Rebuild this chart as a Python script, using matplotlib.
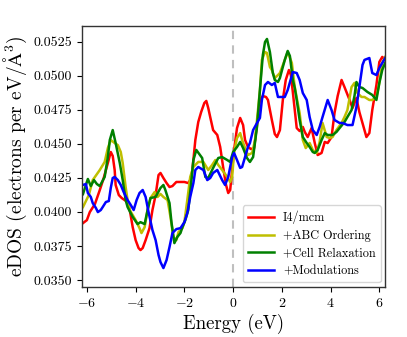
import matplotlib
matplotlib.use("Agg")
import matplotlib.pyplot as plt

plt.rcParams['font.family'] = 'serif'
plt.rcParams['font.serif'] = ['cmr10']
plt.rcParams['mathtext.fontset'] = 'cm'
plt.rcParams['axes.formatter.use_mathtext'] = True
plt.rcParams['axes.unicode_minus'] = True

# ---- data ----
red_x = [-6.16, -6.00, -5.88, -5.67, -5.47, -5.31, -5.14, -5.02, -4.94, -4.86, -4.82, -4.69, -4.57, -4.45,
         -4.33, -4.24, -4.12, -4.00, -3.88, -3.80, -3.71, -3.59, -3.43, -3.31, -3.18, -3.06, -2.98, -2.86,
         -2.73, -2.61, -2.49, -2.33, -2.16, -2.00, -1.84, -1.71, -1.63, -1.55, -1.43, -1.31, -1.18, -1.10,
         -1.02, -0.94, -0.82, -0.65, -0.53, -0.41, -0.29, -0.20, -0.12, -0.04, 0.04, 0.16, 0.29, 0.41,
         0.49, 0.61, 0.73, 0.86, 0.98, 1.10, 1.22, 1.35, 1.43, 1.59, 1.71, 1.80, 1.92, 2.04, 2.16, 2.29,
         2.37, 2.45, 2.53, 2.61, 2.73, 2.86, 2.94, 3.06, 3.22, 3.35, 3.47, 3.63, 3.76, 3.88, 4.04, 4.16,
         4.29, 4.45, 4.57, 4.78, 4.90, 5.06, 5.18, 5.39, 5.47, 5.59, 5.71, 5.88, 6.00, 6.12, 6.24]
red_y = [0.03918, 0.03940, 0.03999, 0.04058, 0.04161, 0.04249, 0.04359, 0.04440, 0.04411, 0.04308, 0.04198,
         0.04124, 0.04102, 0.04087, 0.04073, 0.04014, 0.03888, 0.03793, 0.03735, 0.03720, 0.03735, 0.03793,
         0.03881, 0.04014, 0.04124, 0.04271, 0.04286, 0.04249, 0.04212, 0.04183, 0.04190, 0.04220, 0.04220,
         0.04220, 0.04212, 0.04249, 0.04381, 0.04528, 0.04660, 0.04734, 0.04800, 0.04815, 0.04763, 0.04697,
         0.04601, 0.04565, 0.04477, 0.04330, 0.04198, 0.04139, 0.04161, 0.04308, 0.04455, 0.04616, 0.04690,
         0.04638, 0.04528, 0.04477, 0.04462, 0.04469, 0.04638, 0.04822, 0.04851, 0.04844, 0.04822, 0.04675,
         0.04572, 0.04550, 0.04601, 0.04822, 0.04969, 0.05042, 0.05005, 0.04881, 0.04748, 0.04616, 0.04594,
         0.04624, 0.04587, 0.04550, 0.04616, 0.04506, 0.04418, 0.04433, 0.04514, 0.04506, 0.04550, 0.04726,
         0.04851, 0.04969, 0.04917, 0.04822, 0.04763, 0.04837, 0.04734, 0.04601, 0.04550, 0.04579, 0.04748,
         0.04932, 0.05101, 0.05138, 0.05116]

abc_x = [-6.16, -5.92, -5.76, -5.47, -5.27, -5.14, -5.02, -4.86, -4.73, -4.61, -4.53, -4.41, -4.33, -4.24,
         -4.00, -3.84, -3.76, -3.63, -3.51, -3.39, -3.22, -3.10, -2.98, -2.86, -2.69, -2.57, -2.45, -2.33,
         -2.24, -2.08, -2.00, -1.88, -1.76, -1.63, -1.43, -1.22, -1.02, -0.86, -0.73, -0.61, -0.45, -0.24,
         -0.12, -0.04, 0.04, 0.16, 0.29, 0.37, 0.49, 0.61, 0.78, 0.90, 1.02, 1.10, 1.18, 1.31, 1.39, 1.51,
         1.59, 1.71, 1.84, 1.92, 2.12, 2.24, 2.41, 2.53, 2.65, 2.73, 2.86, 2.98, 3.14, 3.27, 3.43, 3.55,
         3.67, 3.84, 3.96, 4.08, 4.24, 4.45, 4.57, 4.69, 4.86, 4.98, 5.10, 5.27, 5.39, 5.59, 5.71, 5.88,
         6.00, 6.12, 6.24]
abc_y = [0.04036, 0.04124, 0.04234, 0.04308, 0.04367, 0.04469, 0.04528, 0.04506, 0.04491, 0.04440, 0.04359,
         0.04183, 0.04087, 0.04014, 0.03940, 0.03881, 0.03845, 0.03888, 0.04014, 0.04102, 0.04146, 0.04110,
         0.04132, 0.04110, 0.04087, 0.03963, 0.03816, 0.03793, 0.03852, 0.03881, 0.03925, 0.04087, 0.04257,
         0.04330, 0.04367, 0.04367, 0.04308, 0.04345, 0.04381, 0.04345, 0.04308, 0.04257, 0.04220, 0.04257,
         0.04440, 0.04543, 0.04579, 0.04528, 0.04469, 0.04418, 0.04433, 0.04528, 0.04748, 0.04895, 0.05116,
         0.05174, 0.05167, 0.05064, 0.05042, 0.04983, 0.05005, 0.05020, 0.05116, 0.05174, 0.05094, 0.04917,
         0.04800, 0.04726, 0.04528, 0.04469, 0.04506, 0.04455, 0.04433, 0.04514, 0.04653, 0.04550, 0.04543,
         0.04550, 0.04601, 0.04653, 0.04697, 0.04748, 0.04917, 0.04947, 0.04873, 0.04844, 0.04844, 0.04822,
         0.04822, 0.04844, 0.04947, 0.05094, 0.05138]

cell_x = [-6.16, -6.04, -5.96, -5.84, -5.71, -5.59, -5.47, -5.27, -5.14, -5.06, -4.94, -4.82, -4.65, -4.53,
          -4.41, -4.33, -4.12, -3.92, -3.80, -3.63, -3.51, -3.39, -3.18, -2.98, -2.86, -2.78, -2.61, -2.53,
          -2.41, -2.29, -2.16, -2.08, -1.96, -1.84, -1.71, -1.63, -1.51, -1.27, -1.14, -1.02, -0.82, -0.61,
          -0.45, -0.24, -0.12, 0.00, 0.16, 0.29, 0.41, 0.57, 0.69, 0.82, 0.98, 1.10, 1.22, 1.31, 1.39,
          1.51, 1.63, 1.71, 1.84, 1.92, 2.04, 2.12, 2.24, 2.33, 2.45, 2.53, 2.61, 2.73, 2.86, 3.02, 3.14,
          3.27, 3.35, 3.47, 3.63, 3.76, 3.88, 4.08, 4.24, 4.37, 4.57, 4.69, 4.86, 4.98, 5.06, 5.18, 5.31,
          5.51, 5.71, 5.88, 6.00, 6.12, 6.24]
cell_y = [0.04131, 0.04198, 0.04242, 0.04190, 0.04234, 0.04205, 0.04190, 0.04257, 0.04403, 0.04528, 0.04601,
          0.04506, 0.04359, 0.04234, 0.04087, 0.04036, 0.03963, 0.03911, 0.03925, 0.03911, 0.04014, 0.04102,
          0.04110, 0.04176, 0.04198, 0.04161, 0.04065, 0.03925, 0.03771, 0.03816, 0.03845, 0.03888, 0.03940,
          0.04014, 0.04234, 0.04381, 0.04455, 0.04396, 0.04257, 0.04249, 0.04323, 0.04396, 0.04403, 0.04381,
          0.04367, 0.04440, 0.04477, 0.04514, 0.04469, 0.04396, 0.04367, 0.04403, 0.04624, 0.04895, 0.05152,
          0.05248, 0.05270, 0.05174, 0.05020, 0.04969, 0.04954, 0.04983, 0.05064, 0.05116, 0.05182, 0.05145,
          0.04969, 0.04910, 0.04822, 0.04675, 0.04550, 0.04506, 0.04477, 0.04440, 0.04433, 0.04455, 0.04528,
          0.04579, 0.04565, 0.04565, 0.04587, 0.04616, 0.04660, 0.04697, 0.04748, 0.04851, 0.04954, 0.04917,
          0.04910, 0.04881, 0.04859, 0.04822, 0.04947, 0.05042, 0.05094]

mod_x = [-6.16, -6.04, -5.96, -5.84, -5.76, -5.63, -5.55, -5.43, -5.35, -5.22, -5.10, -5.02, -4.94, -4.86,
         -4.73, -4.61, -4.49, -4.33, -4.20, -4.08, -3.96, -3.84, -3.71, -3.59, -3.47, -3.31, -3.18, -3.06,
         -2.98, -2.86, -2.73, -2.61, -2.49, -2.33, -2.16, -2.00, -1.88, -1.76, -1.63, -1.55, -1.43, -1.22,
         -1.06, -0.94, -0.82, -0.65, -0.45, -0.33, -0.20, -0.04, 0.04, 0.16, 0.29, 0.37, 0.49, 0.61, 0.69,
         0.82, 0.98, 1.10, 1.18, 1.31, 1.43, 1.59, 1.71, 1.84, 2.00, 2.12, 2.24, 2.45, 2.61, 2.73, 2.86,
         3.02, 3.14, 3.27, 3.43, 3.55, 3.67, 3.88, 4.04, 4.16, 4.37, 4.49, 4.69, 4.90, 5.06, 5.18, 5.31,
         5.39, 5.59, 5.71, 5.88, 6.00, 6.12, 6.24]
mod_y = [0.04198, 0.04205, 0.04139, 0.04110, 0.04065, 0.04029, 0.03999, 0.04014, 0.04036, 0.04073, 0.04080,
         0.04176, 0.04249, 0.04257, 0.04234, 0.04198, 0.04146, 0.04087, 0.04051, 0.04014, 0.04087, 0.04139,
         0.04161, 0.04110, 0.03999, 0.03867, 0.03793, 0.03684, 0.03632, 0.03588, 0.03647, 0.03742, 0.03845,
         0.03874, 0.03881, 0.03925, 0.03992, 0.04110, 0.04212, 0.04308, 0.04330, 0.04308, 0.04234, 0.04249,
         0.04286, 0.04308, 0.04234, 0.04198, 0.04257, 0.04403, 0.04433, 0.04381, 0.04323, 0.04330, 0.04403,
         0.04477, 0.04506, 0.04601, 0.04653, 0.04690, 0.04822, 0.04932, 0.04954, 0.04932, 0.04947, 0.04844,
         0.04844, 0.04844, 0.04895, 0.05027, 0.05020, 0.04969, 0.04873, 0.04822, 0.04697, 0.04601, 0.04565,
         0.04624, 0.04697, 0.04822, 0.04748, 0.04675, 0.04653, 0.04653, 0.04638, 0.04638, 0.04770, 0.04917,
         0.05079, 0.05116, 0.05130, 0.05020, 0.05005, 0.05057, 0.05094, 0.05130]

labels = ['I4/mcm', '+ABC Ordering', '+Cell Relaxation', '+Modulations']
colors = ['r', 'y', 'g', 'b']
x_ticks = [-6, -4, -2, 0, 2, 4, 6]
y_ticks = [0.0350, 0.0375, 0.0400, 0.0425, 0.0450, 0.0475, 0.0500, 0.0525]

fig = plt.figure(figsize=(4.07, 3.37), dpi=100)
ax = fig.add_axes([0.2015, 0.1484, 0.7455, 0.7744])

series = [(red_x, red_y), (abc_x, abc_y), (cell_x, cell_y), (mod_x, mod_y)]
for (xs, ys), lab, c in zip(series, labels, colors):
    ax.plot(xs, ys, color=c, lw=1.8, label=lab)

ax.axvline(0, color='0.75', ls='--', lw=1.5, dashes=(4, 3), zorder=0)

ax.set_xlim(-6.2, 6.25)
ax.set_ylim(0.03449, 0.05365)
ax.set_xticks(x_ticks)
ax.set_yticks(y_ticks)
ax.set_yticklabels(['%.4f' % v for v in y_ticks])
ax.tick_params(axis='both', labelsize=10, direction='out', length=3.5, width=0.8, top=False, right=False)

for s in ax.spines.values():
    s.set_color('0.2')
    s.set_linewidth(1.0)

ax.set_xlabel('Energy (eV)', fontsize=13.5, labelpad=3)
ax.set_ylabel(r'eDOS (electrons per eV/$\mathrm{\AA}^3$)', fontsize=14, labelpad=3)

leg = ax.legend(loc='lower right', fontsize=8.8, frameon=True, fancybox=True,
                handlelength=2.2, handletextpad=0.7, borderaxespad=0.4, labelspacing=0.45)
leg.get_frame().set_edgecolor('0.8')

fig.savefig('out.png', dpi=100)
